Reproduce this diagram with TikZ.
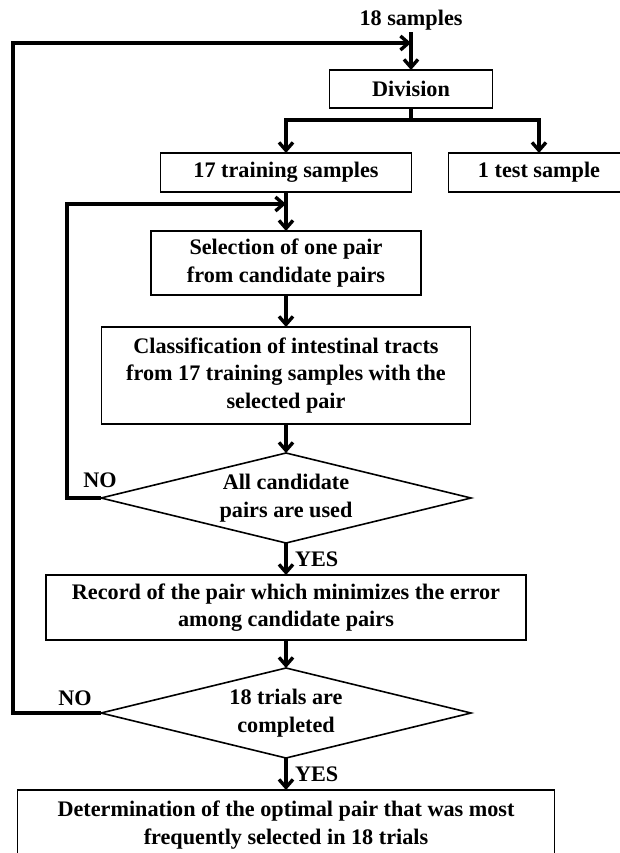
\documentclass[tikz,border=0pt]{standalone}
\usepackage{fontspec}
\setmainfont{Liberation Serif}
\usetikzlibrary{arrows.meta, positioning, shapes.geometric}

\begin{document}
\begin{tikzpicture}[> = {Straight Barb[length=8pt, width=14pt]}, % arrow head style
                x = 1pt, y = 1pt, auto,
                node distance = 32pt, % distance between boxes
                line width = 3.4pt % line style
            ]

            \tikzstyle{every node}=[font = \bfseries\fontsize{22.2}{27.5}\selectfont,
            align = center, inner sep = 2pt, outer sep = 0pt]
            \tikzstyle{box}=[draw = black, line width = 1.6pt, rectangle,
            minimum height = 38pt]
            \tikzstyle{decision}=[draw = black, line width = 1.6pt, diamond,
            aspect = 4.1, minimum width = 370pt, minimum height = 90pt, inner
            sep = 0pt]

            \useasboundingbox (0,0) rectangle (619,-853);

            \node (0) at (411,-20) {18 samples};
            \node (1) [box, minimum width = 163pt] at (411,-89) {Division};
            \node (2) [box, minimum width = 251pt, minimum height = 39pt] at
            (286,-172.5) {17 training samples}; \node (3) [box, minimum width =
            181pt, minimum height = 39pt] at (539,-172.5) {1 test sample};
            \node (4) [box, minimum width = 270pt, minimum height = 64pt, below
            = 39pt of 2] {Selection of one pair\\from candidate pairs};
            \node (5) [box, minimum width = 369pt, minimum height = 97pt, below
            = of 4] {Classification of intestinal tracts\\from 17 training
            samples with the\\selected pair};
            \node (6) [decision, below = 29pt of 5] {All candidate\\pairs are
            used};
            \node (7) [box, minimum width = 480pt, minimum height = 65pt, below
            = of 6] {Record of the pair which minimizes the error\\among
            candidate pairs};
            \node (8) [decision, below = 28pt of 7] {18 trials are\\completed};
            \node (9) [box, minimum width = 537pt, minimum height = 70pt, below
            = of 8] {Determination of the optimal pair that was most\\frequently
            selected in 18 trials};

            \node (n1) at (100,-480) {NO}; \node (n2) at (75,-698) {NO};

            \coordinate (a) at ([yshift=27pt]1.north);
            \coordinate (b) at ([yshift=27pt]4.north);

            \path[->] (0) edge (1); \path[->] (2) edge (4); \path[->] (4) edge
            (5); \path[->] (5) edge (6); \path[->] (7) edge (8);
            \path[->] (6) edge node[right = 7pt] {YES} (7);
            \path[->] (8) edge node[right = 7pt] {YES} (9);
            \draw[->] (1.south) -- ++(0,-12) -| (2.north);
            \draw[->] (1.south) -- ++(0,-12) -| (3.north);
            \draw[->] (6.west) -- ++(-34,0) |- (b);
            \draw[->] (8.west) -- ++(-88,0) |- (a);
\end{tikzpicture}
\end{document}
